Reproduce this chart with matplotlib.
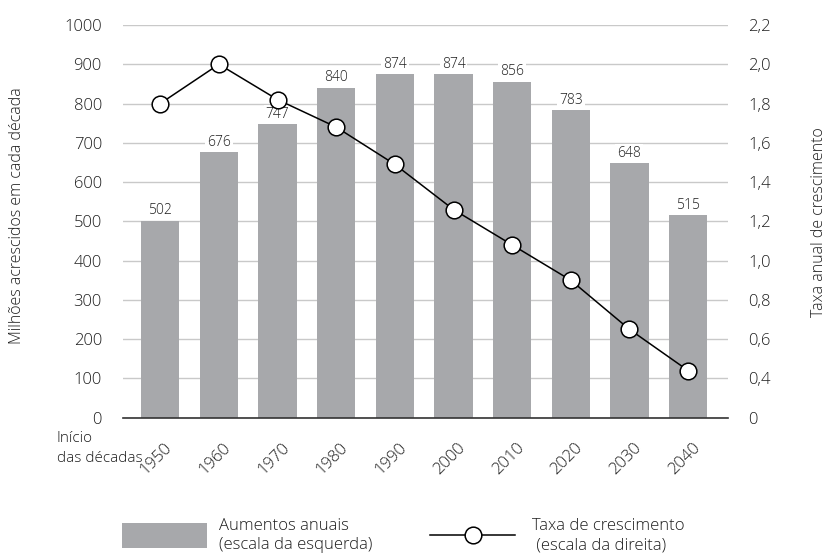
import matplotlib
matplotlib.use("Agg")
import matplotlib.pyplot as plt
from matplotlib.patches import Rectangle
from matplotlib.lines import Line2D
from matplotlib.transforms import ScaledTranslation

decades = ["1950", "1960", "1970", "1980", "1990", "2000", "2010", "2020", "2030", "2040"]
increases = [502, 676, 747, 840, 874, 874, 856, 783, 648, 515]
growth_rate = [1.80, 2.00, 1.82, 1.68, 1.49, 1.26, 1.08, 0.90, 0.65, 0.44]
left_ticks = [0, 100, 200, 300, 400, 500, 600, 700, 800, 900, 1000]
right_ticks = [0.2, 0.4, 0.6, 0.8, 1.0, 1.2, 1.4, 1.6, 1.8, 2.0, 2.2]
right_labels = ["0", "0,4", "0,6", "0,8", "1,0", "1,2", "1,4", "1,6", "1,8", "2,0", "2,2"]

plt.rcParams['font.family'] = ['Open Sans', 'DejaVu Sans']
plt.rcParams['font.weight'] = 'light'
TXT = "#1e1e1e"
BAR = "#a7a8ab"
GRID = "#c9c9c9"

fig = plt.figure(figsize=(8.29, 5.55), dpi=100)
ax = fig.add_axes([122.7/829, 1-417.7/555, (728-122.7)/829, (417.7-25)/555])

x = list(range(len(decades)))
ax.set_xlim(-0.64, 9.68)
ax.set_ylim(0, 1000)
ax.set_yticks(left_ticks)
ax.set_yticklabels([str(t) for t in left_ticks], fontsize=12, color=TXT)
ax.tick_params(axis='y', length=0, pad=15)
ax.grid(axis='y', color=GRID, linewidth=1.0)
ax.set_axisbelow(True)
for s in ["top", "right", "left"]:
    ax.spines[s].set_visible(False)
ax.spines["bottom"].set_color("#333333")
ax.spines["bottom"].set_linewidth(1.2)
ax.spines["bottom"].set_zorder(5)

bars = ax.bar(x, increases, width=0.65, color=BAR, zorder=2)
for xi, v in zip(x, increases):
    ax.text(xi, v + 6, str(v), ha='center', va='bottom', fontsize=10, color=TXT,
            zorder=3, bbox=dict(facecolor='white', edgecolor='none', pad=1.5))

ax.set_xticks(x)
ax.set_xticklabels(decades, rotation=45, ha='center', fontsize=12, color=TXT)
ax.tick_params(axis='x', length=0, pad=16)
offset = ScaledTranslation(-4/100, 0, fig.dpi_scale_trans)
for lbl in ax.get_xticklabels():
    lbl.set_transform(lbl.get_transform() + offset)

ax2 = ax.twinx()
ax2.set_ylim(0.2, 2.2)
ax2.set_yticks(right_ticks)
ax2.set_yticklabels(right_labels, fontsize=12, color=TXT)
ax2.tick_params(axis='y', length=0, pad=14.5)
for s in ["top", "right", "left", "bottom"]:
    ax2.spines[s].set_visible(False)
ax2.plot(x, growth_rate, color="black", linewidth=1.1, marker='o', markersize=12,
         markerfacecolor='white', markeredgecolor='black', markeredgewidth=1.1, zorder=6)

fig.text(17.5/829, 1-216/555, "Milhões acrescidos em cada década", rotation=90, fontsize=11.5,
         color=TXT, ha='center', va='center')
fig.text(819/829, 1-222/555, "Taxa anual de crescimento", rotation=90, fontsize=11.5,
         color=TXT, ha='center', va='center')

fig.text(57/829, 1-439/555, "Início", fontsize=11, color=TXT, va='center', ha='left')
fig.text(57/829, 1-458/555, "das décadas", fontsize=11, color=TXT, va='center', ha='left')

# Legend
fig.patches.append(Rectangle((122/829, 1-548/555), 85/829, 25/555, transform=fig.transFigure,
                             facecolor=BAR, edgecolor='none'))
fig.text(219/829, 1-526/555, "Aumentos anuais", fontsize=12, color=TXT, va='center', ha='left')
fig.text(219/829, 1-545/555, "(escala da esquerda)", fontsize=12, color=TXT, va='center', ha='left')
fig.lines.append(Line2D([430/829, 515/829], [1-535/555, 1-535/555], transform=fig.transFigure,
                        color='black', linewidth=1.1))
fig.lines.append(Line2D([473/829], [1-535/555], transform=fig.transFigure, marker='o',
                        markersize=12, markerfacecolor='white', markeredgecolor='black',
                        markeredgewidth=1.1, linestyle='none'))
fig.text(532/829, 1-526/555, "Taxa de crescimento", fontsize=12, color=TXT, va='center', ha='left')
fig.text(532/829, 1-545/555, " (escala da direita)", fontsize=12, color=TXT, va='center', ha='left')

fig.savefig("out.png", dpi=100)
